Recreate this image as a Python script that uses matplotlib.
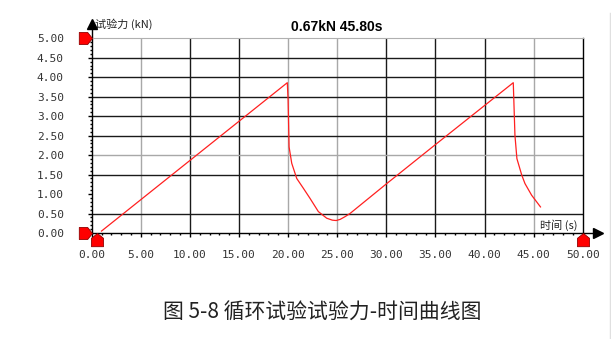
import matplotlib
matplotlib.use("Agg")
import matplotlib.pyplot as plt
import numpy as np
from matplotlib.path import Path
from matplotlib.lines import Line2D

plt.rcParams['font.family'] = ['DejaVu Sans Mono', 'Noto Sans CJK SC']

# data
time_s = [1.0, 19.92, 20.0, 20.1, 20.37, 20.88, 21.55, 22.23, 23.08, 23.93, 24.5, 24.9,
          25.3, 25.8, 26.3, 30.0, 35.0, 42.93, 43.1, 43.3, 43.79, 44.12, 44.8, 45.7]
force_kn = [0.05, 3.86, 3.41, 2.21, 1.79, 1.40, 1.15, 0.89, 0.55, 0.38, 0.33, 0.32,
            0.35, 0.42, 0.50, 1.26, 2.27, 3.86, 2.51, 1.91, 1.49, 1.27, 0.97, 0.67]
x_ticks = [0, 5, 10, 15, 20, 25, 30, 35, 40, 45, 50]
y_ticks = [0, 0.5, 1.0, 1.5, 2.0, 2.5, 3.0, 3.5, 4.0, 4.5, 5.0]
title = "0.67kN 45.80s"
caption = "图 5-8 循环试验试验力-时间曲线图"

# grid lines: value -> colour (the 1.00 line is missing in the original)
dark = '#1a1a1a'
light = '#a8a8a8'
vgrid = {5: light, 10: dark, 15: dark, 20: light, 25: light, 30: dark, 35: dark, 40: dark, 45: light}
hgrid = {0.5: dark, 1.5: dark, 2.0: light, 2.5: dark, 3.0: dark, 3.5: dark, 4.0: dark, 4.5: dark}

fig = plt.figure(figsize=(6.11, 3.39), dpi=100)
ax = fig.add_axes([91.7/611, 1-233/339, (582.7-91.7)/611, (233-38.3)/339])
ax.set_xlim(0, 50)
ax.set_ylim(0, 5)

for v, c in vgrid.items():
    ax.axvline(v, color=c, lw=1.0, zorder=1)
for v, c in hgrid.items():
    ax.axhline(v, color=c, lw=1.0, zorder=1)

ax.plot(time_s, force_kn, color='#ff2020', lw=0.9, zorder=3)

ax.spines['top'].set_color('#b0b0b0')
for s in ['left', 'bottom', 'right']:
    ax.spines[s].set_color('black')
    ax.spines[s].set_linewidth(1.0)

ax.set_xticks(x_ticks)
ax.set_yticks(y_ticks)
ax.set_xticklabels([f"{v:.2f}" for v in x_ticks], fontsize=8, color='#333333')
ax.set_yticklabels([f"{v:.2f}" for v in y_ticks], fontsize=8, color='#333333')
ax.set_xticks(np.arange(0, 51, 1), minor=True)
ax.set_yticks(np.arange(0, 5.01, 0.1), minor=True)
ax.tick_params(axis='y', which='major', length=3, width=1, pad=17)
ax.tick_params(axis='x', which='major', length=3, width=1, pad=9)
ax.tick_params(which='minor', length=1.5, width=1)

# axis arrows
ax.plot([0, 0], [5, 5.35], color='black', lw=1.0, clip_on=False)
ax.plot([0], [5.38], marker='^', color='black', ms=7, clip_on=False)
ax.plot([50, 51.6], [0, 0], color='black', lw=1.0, clip_on=False)
ax.plot([51.6], [0], marker='>', color='black', ms=7, clip_on=False)

# red cursor markers
house_up = Path([(0, 0), (1, -0.8), (1, -2.2), (-1, -2.2), (-1, -0.8), (0, 0)])
house_right = Path([(0, 0), (-0.8, 1), (-2.2, 1), (-2.2, -1), (-0.8, -1), (0, 0)])
mk = dict(color='red', mec='#900000', mew=0.6, ms=19, clip_on=False, zorder=5)
ax.plot([0], [5], marker=house_right, **mk)
ax.plot([0], [0], marker=house_right, **mk)
ax.plot([0.5], [0], marker=house_up, **mk)
ax.plot([50], [0], marker=house_up, **mk)

ax.set_title(title, fontsize=10, fontweight='bold', family='Liberation Sans', pad=5)
fig.text(95/611, 1-24/339, "试验力 (kN)", fontsize=8, va='center', ha='left',
         family=['Noto Sans CJK SC', 'DejaVu Sans'], color='#222222')
fig.text(577/611, 1-225/339, "时间 (s)", fontsize=8, va='center', ha='right',
         family=['Noto Sans CJK SC', 'DejaVu Sans'], color='#222222')
fig.text(322/611, 1-313/339, caption, fontsize=15, va='center', ha='center',
         family=['Noto Sans CJK SC', 'DejaVu Sans'], color='#222222', fontweight='medium')

fig.add_artist(Line2D([609.5/611, 609.5/611], [0, 1-13/339], color='#e0e0e0', lw=1))

fig.savefig('out.png', dpi=100)
